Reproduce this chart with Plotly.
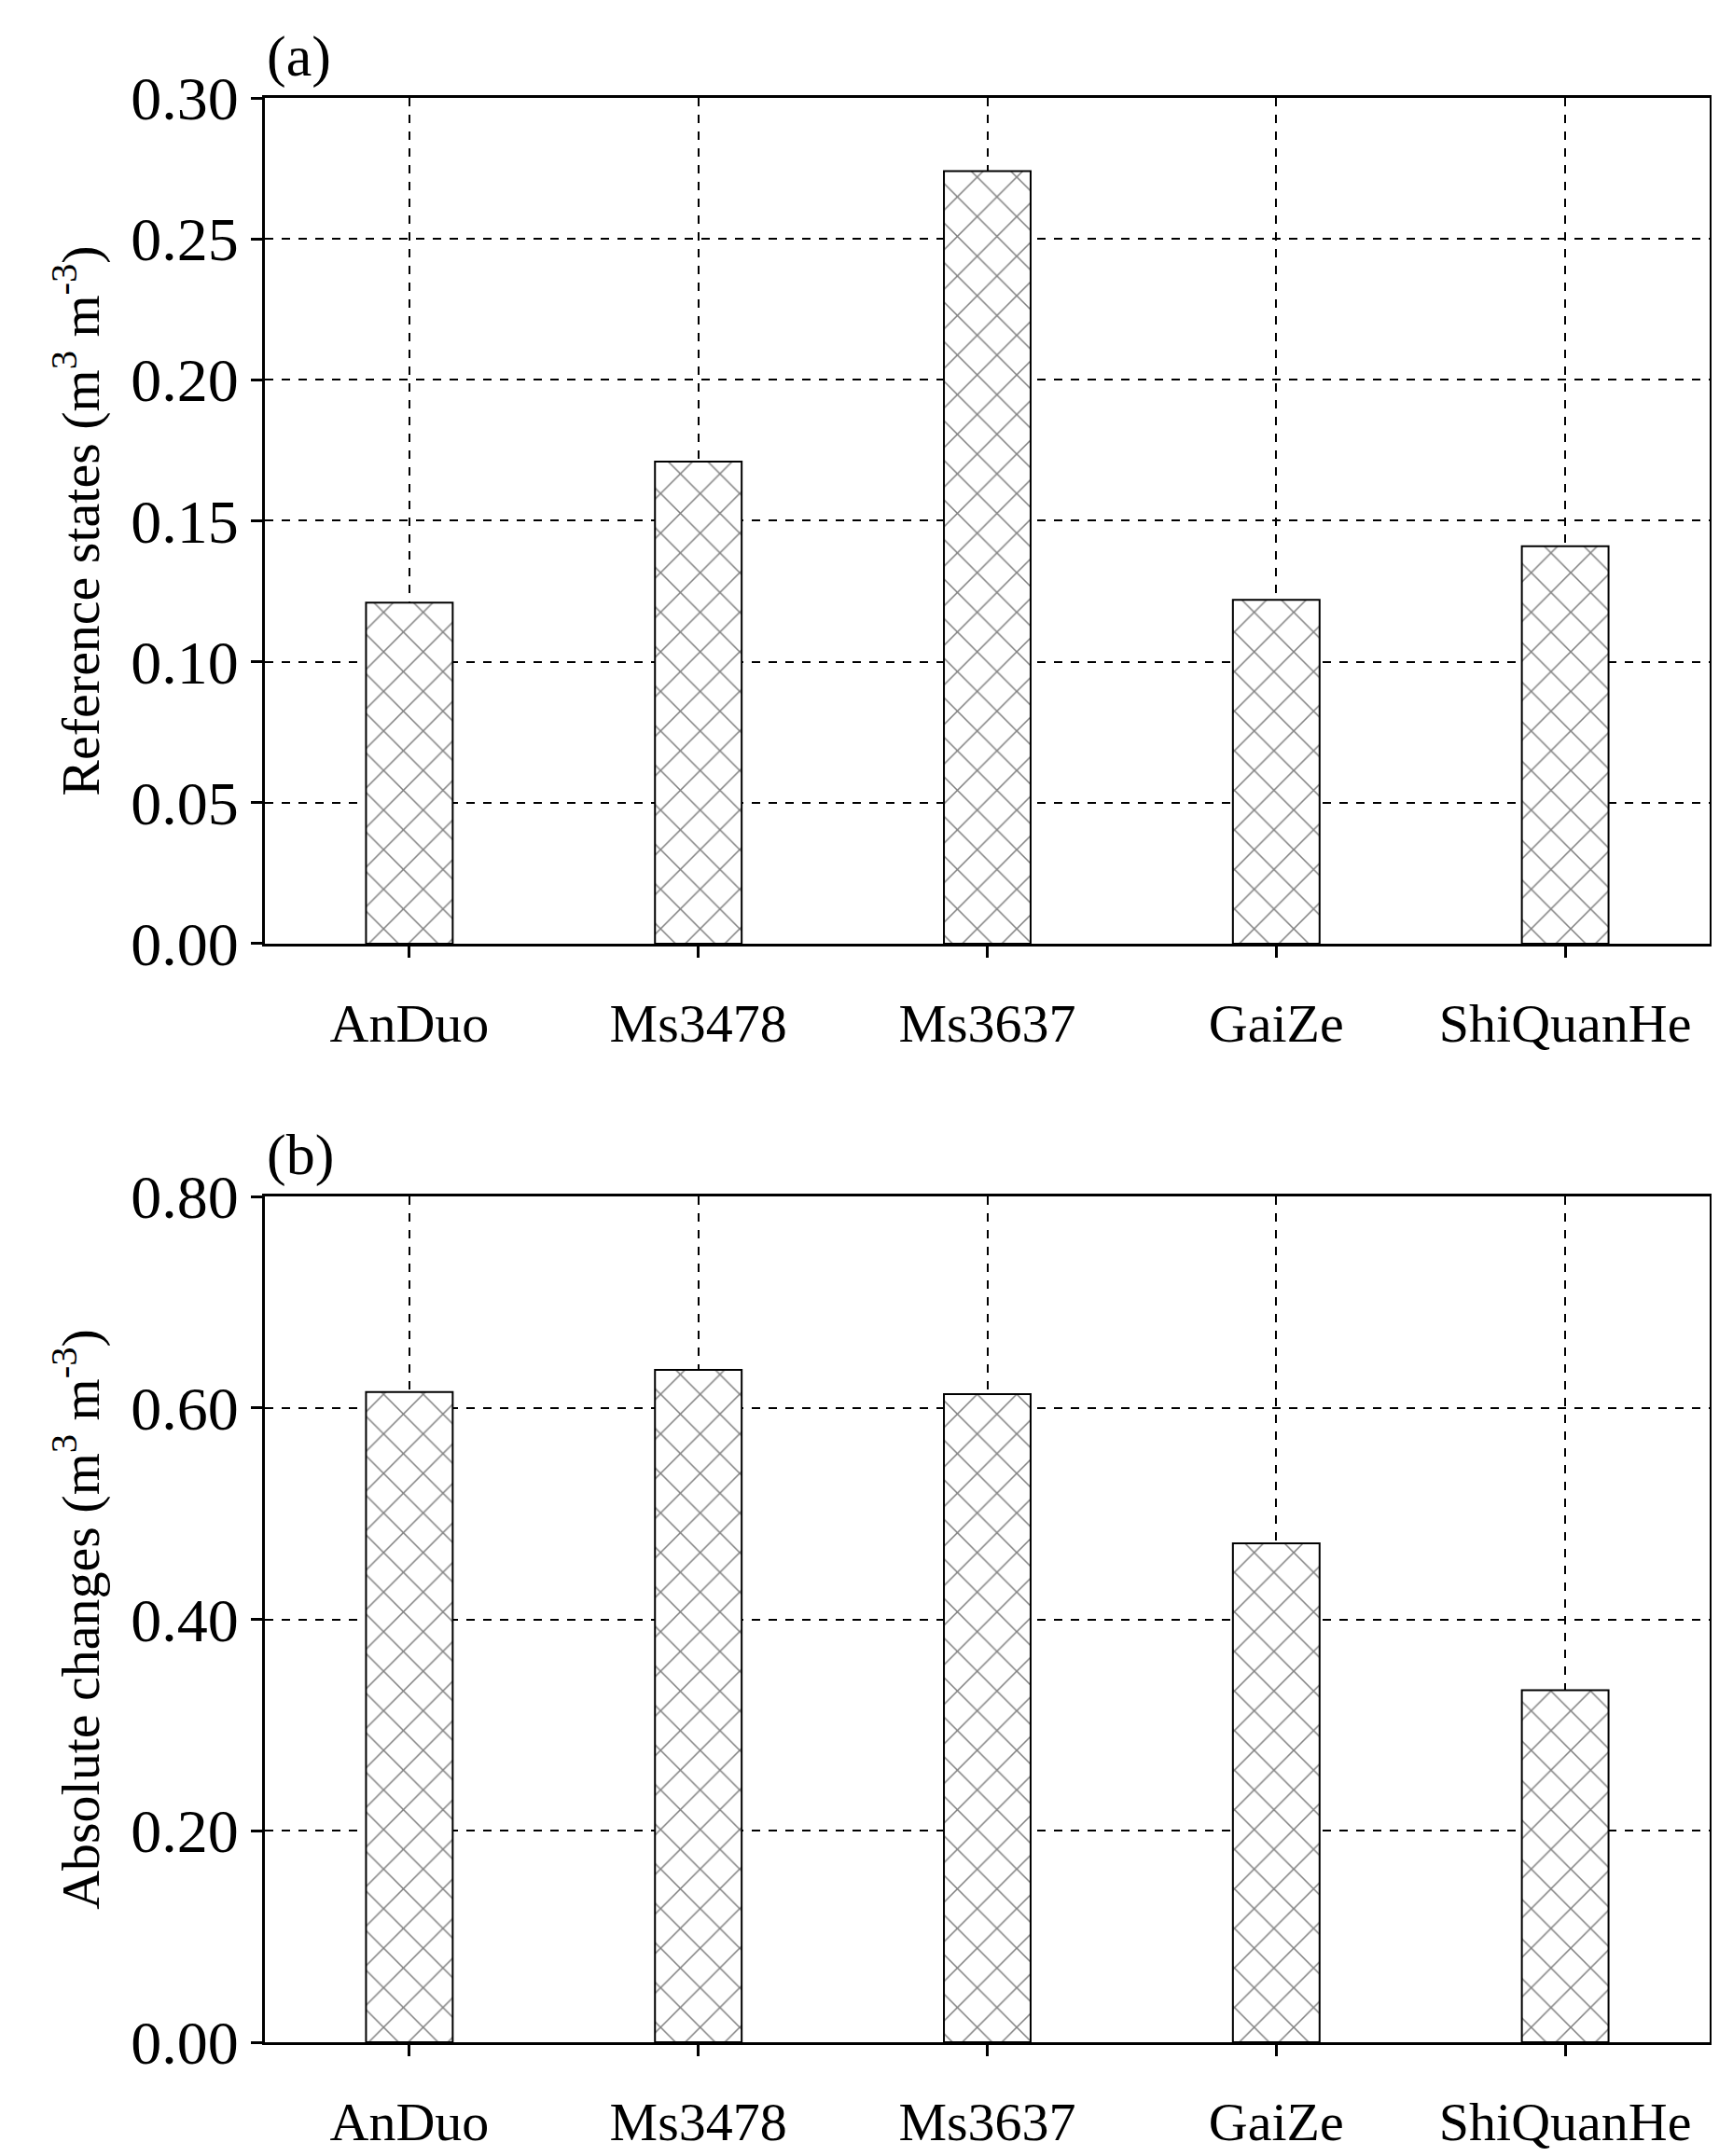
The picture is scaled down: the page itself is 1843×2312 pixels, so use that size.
import plotly.graph_objects as go
from plotly.subplots import make_subplots

sites = ["AnDuo", "Ms3478", "Ms3637", "GaiZe", "ShiQuanHe"]
reference_states = [0.121, 0.171, 0.274, 0.122, 0.141]
absolute_changes = [0.615, 0.636, 0.613, 0.472, 0.333]

FONT = "Liberation Serif"

fig = make_subplots(rows=2, cols=1, vertical_spacing=0.13)

for row, vals in [(1, reference_states), (2, absolute_changes)]:
    fig.add_trace(
        go.Bar(
            x=sites,
            y=vals,
            width=0.3,
            marker=dict(
                color="white",
                line=dict(color="black", width=2),
                pattern=dict(shape="x", fgcolor="black", bgcolor="white", size=30, solidity=0.1),
            ),
            showlegend=False,
        ),
        row=row,
        col=1,
    )

axis_common = dict(
    showline=True,
    linecolor="black",
    linewidth=3,
    mirror=True,
    ticks="outside",
    tickwidth=3,
    ticklen=12,
    tickcolor="black",
    showgrid=True,
    gridcolor="black",
    griddash="dash",
    gridwidth=1.5,
    zeroline=False,
)

fig.update_xaxes(**axis_common, tickfont=dict(family=FONT, size=58, color="black"),
                 range=[-0.5, 4.5], ticklabelstandoff=20)
fig.update_yaxes(**axis_common, tickfont=dict(family=FONT, size=66, color="black"),
                 tickformat=".2f")
fig.update_yaxes(range=[0, 0.30], dtick=0.05, row=1, col=1,
                 title=dict(text="Reference states (m<sup>3</sup> m<sup>-3</sup>)",
                            font=dict(family=FONT, size=58, color="black"), standoff=15))
fig.update_yaxes(range=[0, 0.80], dtick=0.20, row=2, col=1,
                 title=dict(text="Absolute changes (m<sup>3</sup> m<sup>-3</sup>)",
                            font=dict(family=FONT, size=58, color="black"), standoff=15))

fig.update_layout(
    width=1843,
    height=2312,
    paper_bgcolor="white",
    plot_bgcolor="white",
    margin=dict(l=276, r=18, t=97, b=115),
    bargap=0.7,
    annotations=[
        dict(text="(a)", x=0.0, y=1.0, xref="x domain", yref="y domain", xanchor="left",
             yanchor="bottom", yshift=8, showarrow=False,
             font=dict(family=FONT, size=62, color="black")),
        dict(text="(b)", x=0.0, y=1.0, xref="x2 domain", yref="y2 domain", xanchor="left",
             yanchor="bottom", yshift=8, showarrow=False,
             font=dict(family=FONT, size=62, color="black")),
    ],
)

fig.write_html("out.html")
